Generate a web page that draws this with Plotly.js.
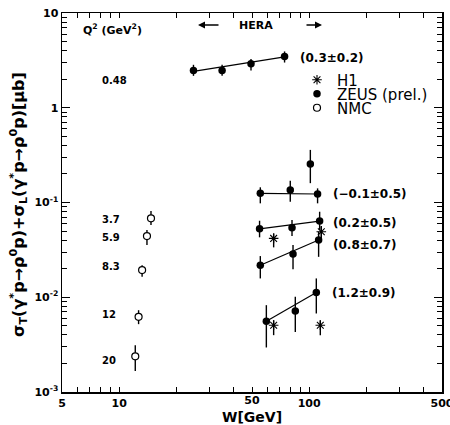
<!DOCTYPE html>
<html><head><meta charset="utf-8">
<script src="https://cdn.plot.ly/plotly-3.0.1.min.js"></script>
<style>html,body{margin:0;padding:0;background:#fff}#chart{width:450px;height:425px}</style>
</head><body><div id="chart"></div>
<script>
// ---------------- data ----------------
// ZEUS (prel.) series, labelled by fitted exponent
const zeusA_W  = [24.6, 34.8, 49.4, 74.2];          // Q2 = 0.48
const zeusA_S  = [2.47, 2.47, 2.91, 3.48];
const zeusA_Hi = [2.84, 2.84, 3.26, 3.93];
const zeusA_Lo = [2.17, 2.17, 2.47, 3.00];

const zeusB_W  = [55.3, 79.5, 110.7];
const zeusB_S  = [0.125, 0.1355, 0.123];
const zeusB_Hi = [0.1447, 0.170, 0.141];
const zeusB_Lo = [0.098, 0.102, 0.098];

const zeusX_W  = [101.4];                           // isolated ZEUS point
const zeusX_S  = [0.255];
const zeusX_Hi = [0.359];
const zeusX_Lo = [0.160];

const zeusC_W  = [54.8, 81.2, 113.5];
const zeusC_S  = [0.0528, 0.0541, 0.0637];
const zeusC_Hi = [0.0642, 0.0653, 0.0799];
const zeusC_Lo = [0.0429, 0.0443, 0.0512];

const zeusD_W  = [55.3, 82.2, 112.1];
const zeusD_S  = [0.0218, 0.0286, 0.0402];
const zeusD_Hi = [0.0272, 0.0355, 0.0491];
const zeusD_Lo = [0.0158, 0.0197, 0.0267];

const zeusE_W  = [59.5, 84.5, 109.0];
const zeusE_S  = [0.00559, 0.00718, 0.01124];
const zeusE_Hi = [0.00825, 0.0101, 0.0158];
const zeusE_Lo = [0.00295, 0.00431, 0.00674];

// H1
const h1_W  = [65.0, 115.8, 65.0, 114.4];
const h1_S  = [0.0418, 0.0491, 0.00507, 0.00507];
const h1_Hi = [0.0472, 0.0564, 0.00573, 0.00573];
const h1_Lo = [0.0336, 0.0421, 0.00398, 0.00398];

// NMC
const nmc_W  = [14.7, 14.0, 13.2, 12.65, 12.15];
const nmc_S  = [0.0681, 0.0442, 0.01934, 0.00621, 0.00238];
const nmc_Hi = [0.0813, 0.0512, 0.0218, 0.0073, 0.00312];
const nmc_Lo = [0.0578, 0.0355, 0.01643, 0.0052, 0.00167];

// power-law fit lines (end points) and their exponent labels
const fitW = [[24.6, 74.2], [55.3, 110.7], [54.8, 113.5], [55.3, 112.1], [59.5, 109.0]];
const fitS = [[2.42, 3.44], [0.125, 0.123], [0.0528, 0.0637], [0.0218, 0.0402], [0.00559, 0.01124]];
const fitLabels = ['(0.3±0.2)', '(−0.1±0.5)', '(0.2±0.5)', '(0.8±0.7)', '(1.2±0.9)'];

// Q2 labels
const q2Labels = ['0.48', '3.7', '5.9', '8.3', '12', '20'];

// tick labels
const xTickVals = [5, 6, 7, 8, 9, 10, 20, 30, 40, 50, 60, 70, 80, 90, 100, 200, 300, 400, 500];
const xTickText = ['5', '', '', '', '', '10', '', '', '', '', '', '', '', '', '100', '', '', '', '500'];
const xTickVals2 = [50];          // drawn by the overlay axis
const xTickText2 = ['50'];
const yTickVals = [0.001, 0.01, 0.1, 1, 10];
const yTickText = ['10<sup>-3</sup>', '10<sup>-2</sup>', '10<sup>-1</sup>', '1', '10'];
const xTitle = 'W[GeV]';
const yTitle = 'σ<sub>T</sub>(γ<sup>*</sup>p→ρ<sup>0</sup>p)+σ<sub>L</sub>(γ<sup>*</sup>p→ρ<sup>0</sup>p)[μb]';

// ---------------- drawing ----------------
const F = 'DejaVu Sans, sans-serif';
const L = 62, T = 13, PW = 380, PH = 379;
const pxX = x => (x - L) / PW;
const pxY = y => (T + PH - y) / PH;

function errs(s, hi, lo) {
  return {type: 'data', symmetric: false,
    array: s.map((v, i) => hi[i] - v), arrayminus: s.map((v, i) => v - lo[i]),
    color: 'black', thickness: 1.4, width: 0};
}
const zeusMarker = {symbol: 'circle', size: 7.5, color: 'black'};

const traces = [];
traces.push({x: h1_W, y: h1_S, type: 'scatter', mode: 'markers', name: 'H1', legend: 'legend',
  marker: {symbol: 'asterisk-open', size: 8, color: 'black', line: {color: 'black', width: 1.1}},
  error_y: errs(h1_S, h1_Hi, h1_Lo)});
fitW.forEach((w, i) => traces.push({x: w, y: fitS[i], type: 'scatter', mode: 'lines',
  line: {color: 'black', width: 1.2}, showlegend: false, hoverinfo: 'skip'}));
const zs = [[zeusA_W, zeusA_S, zeusA_Hi, zeusA_Lo], [zeusB_W, zeusB_S, zeusB_Hi, zeusB_Lo],
  [zeusX_W, zeusX_S, zeusX_Hi, zeusX_Lo], [zeusC_W, zeusC_S, zeusC_Hi, zeusC_Lo],
  [zeusD_W, zeusD_S, zeusD_Hi, zeusD_Lo], [zeusE_W, zeusE_S, zeusE_Hi, zeusE_Lo]];
zs.forEach((z, i) => traces.push({x: z[0], y: z[1], type: 'scatter', mode: 'markers',
  name: 'ZEUS (prel.)', legend: 'legend2', legendgroup: 'zeus', showlegend: i === 0,
  marker: zeusMarker, error_y: errs(z[1], z[2], z[3])}));
traces.push({x: nmc_W, y: nmc_S, type: 'scatter', mode: 'markers', name: 'NMC', legend: 'legend3',
  marker: {symbol: 'circle', size: 7, color: 'white', line: {color: 'black', width: 1.2}},
  error_y: errs(nmc_S, nmc_Hi, nmc_Lo)});
// empty trace so the overlay x axis (label at 50) is created
traces.push({x: [], y: [], xaxis: 'x2', yaxis: 'y', type: 'scatter', mode: 'markers', showlegend: false});

const yMinor = [];
[0.001, 0.01, 0.1, 1].forEach(d => { for (let k = 2; k <= 9; k++) yMinor.push(d * k); });

const annotations = [];
const ann = (text, x, y, size, bold, xanchor) => annotations.push({
  text, xref: 'paper', yref: 'paper', x: pxX(x), y: pxY(y), xanchor: xanchor || 'left',
  yanchor: 'middle', showarrow: false,
  font: {family: F, size, color: 'black', weight: bold ? 'bold' : 'normal'}});

ann('Q<sup>2</sup> (GeV<sup>2</sup>)', 81, 30, 11, true);
const q2Y = [81, 219, 237, 266, 314, 360];
q2Labels.forEach((t, i) => ann(t, 100, q2Y[i], 10, true));
const fitLX = [298, 331, 331, 331, 330];
const fitLY = [58, 194, 223, 245, 293];
fitLabels.forEach((t, i) => ann(t, fitLX[i], fitLY[i], 12, true));
ann('HERA', 255.5, 25, 11, true, 'center');
[[198, 220], [322, 305]].forEach(([tip, tail]) => annotations.push({
  text: '', xref: 'paper', yref: 'paper', x: pxX(tip), y: pxY(25),
  ax: tail - tip, ay: 0, showarrow: true, arrowhead: 2, arrowsize: 1, arrowwidth: 1.4,
  arrowcolor: 'black', standoff: 0, startstandoff: 0}));
// axis titles
ann(xTitle, 252, 417, 14, true, 'center');
annotations.push({text: yTitle, xref: 'paper', yref: 'paper', x: pxX(18), y: pxY(205),
  xanchor: 'center', yanchor: 'middle', textangle: -90, showarrow: false,
  font: {family: F, size: 16, color: 'black', weight: 'bold'}});

const legFont = {family: F, size: 15, color: 'black'};
const mkLegend = y => ({x: pxX(297), y: pxY(y), xanchor: 'left', yanchor: 'middle',
  font: legFont, bgcolor: 'rgba(0,0,0,0)', borderwidth: 0});

const tickFont = {family: F, size: 11, color: 'black', weight: 'bold'};
const xRange = [Math.log10(5), Math.log10(500)];
const layout = {
  width: 450, height: 425,
  margin: {l: L, r: 8, t: T, b: 33, pad: 0},
  paper_bgcolor: 'white', plot_bgcolor: 'white',
  showlegend: true,
  legend: mkLegend(80), legend2: mkLegend(94), legend3: mkLegend(108),
  xaxis: {type: 'log', range: xRange,
    showline: true, linecolor: 'black', linewidth: 1.5, mirror: 'ticks',
    ticks: 'inside', ticklen: 5, tickwidth: 1, tickcolor: 'black',
    tickmode: 'array', tickvals: xTickVals, ticktext: xTickText, tickfont: tickFont,
    ticklabeloverflow: 'allow', showgrid: false, zeroline: false},
  xaxis2: {type: 'log', range: xRange, overlaying: 'x', anchor: 'y', side: 'bottom',
    showline: false, ticks: '', tickmode: 'array', tickvals: xTickVals2, ticktext: xTickText2,
    tickfont: tickFont, ticklabeloverflow: 'allow', showgrid: false, zeroline: false},
  yaxis: {type: 'log', range: [-3, 1],
    showline: true, linecolor: 'black', linewidth: 1.5, mirror: 'ticks',
    ticks: 'inside', ticklen: 8, tickwidth: 1, tickcolor: 'black',
    tickmode: 'array', tickvals: yTickVals, ticktext: yTickText, tickfont: tickFont,
    ticklabeloverflow: 'allow', showgrid: false, zeroline: false,
    minor: {tickmode: 'array', tickvals: yMinor, ticks: 'inside', ticklen: 5, tickwidth: 1, tickcolor: 'black', showgrid: false}},
  annotations
};
Plotly.newPlot('chart', traces, layout, {staticPlot: true, displayModeBar: false});
</script></body></html>
